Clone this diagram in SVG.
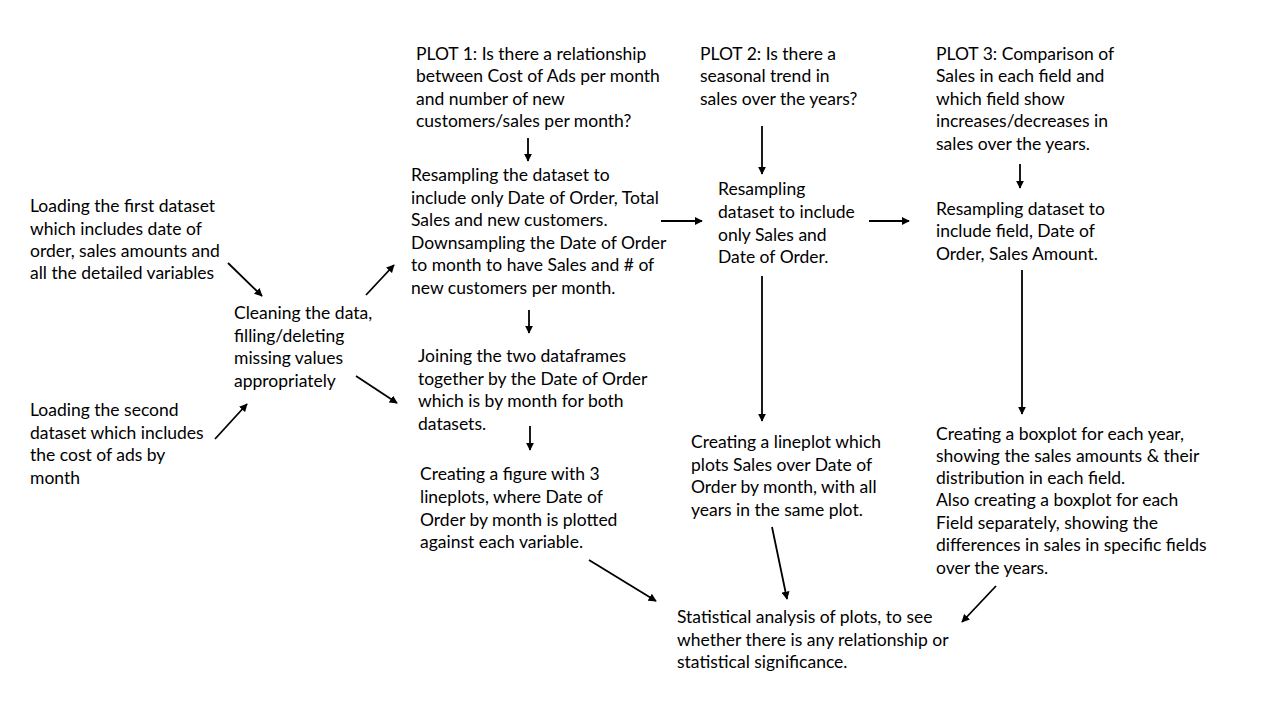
<svg xmlns="http://www.w3.org/2000/svg" width="1280" height="720" viewBox="0 0 1280 720">
<defs>
<style>
text{font-family:Lato,"Liberation Sans",sans-serif;font-size:17.5px;fill:#000}
.c line{stroke:#000;stroke-width:1.8;marker-end:url(#ah)}
</style>
<marker id="ah" viewBox="0 0 10 10" refX="9" refY="5" markerWidth="4.5" markerHeight="4.5" markerUnits="strokeWidth" orient="auto"><path d="M0,0L10,5L0,10z" fill="#000"/></marker>
</defs>
<rect width="1280" height="720" fill="#fff"/>
<g id="load1"><text x="30" y="212">Loading the first dataset</text><text x="30" y="235">which includes date of</text><text x="30" y="257">order, sales amounts and</text><text x="30" y="279">all the detailed  variables</text></g>
<g id="load2"><text x="30" y="416">Loading the second</text><text x="30" y="439">dataset which includes</text><text x="30" y="461">the cost of ads by</text><text x="30" y="484">month</text></g>
<g id="clean"><text x="234" y="319">Cleaning the data,</text><text x="234" y="342">filling/deleting</text><text x="234" y="364">missing values</text><text x="234" y="387">appropriately</text></g>
<g id="plot1"><text x="416" y="60">PLOT 1: Is there a relationship</text><text x="416" y="82">between Cost of Ads per month</text><text x="416" y="105">and number of new</text><text x="416" y="127">customers/sales per month?</text></g>
<g id="resample1"><text x="411" y="181">Resampling the dataset to</text><text x="411" y="204">include only Date of Order, Total</text><text x="411" y="226">Sales and new customers.</text><text x="411" y="249">Downsampling the Date of Order</text><text x="411" y="271">to month to have Sales and # of</text><text x="411" y="294">new customers  per month.</text></g>
<g id="join"><text x="418" y="362">Joining the two dataframes</text><text x="418" y="385">together by the Date of Order</text><text x="418" y="407">which is by month for both</text><text x="418" y="430">datasets.</text></g>
<g id="figure"><text x="420" y="480">Creating a figure with 3</text><text x="420" y="503">lineplots, where Date of</text><text x="420" y="526">Order by month is plotted</text><text x="420" y="548">against each variable.</text></g>
<g id="plot2"><text x="700" y="60">PLOT 2: Is there a</text><text x="700" y="82">seasonal trend in</text><text x="700" y="105">sales over the years?</text></g>
<g id="resample2"><text x="718" y="195">Resampling</text><text x="718" y="218">dataset to include</text><text x="718" y="241">only Sales and</text><text x="718" y="263">Date of Order.</text></g>
<g id="lineplot"><text x="691" y="448">Creating a lineplot which</text><text x="691" y="471">plots Sales over Date of</text><text x="691" y="493">Order by month, with all</text><text x="691" y="516">years in the same plot.</text></g>
<g id="plot3"><text x="936" y="60">PLOT 3: Comparison of</text><text x="936" y="82">Sales in each field  and</text><text x="936" y="105">which field  show</text><text x="936" y="127">increases/decreases in</text><text x="936" y="150">sales over the years.</text></g>
<g id="resample3"><text x="936" y="215">Resampling dataset to</text><text x="936" y="237">include field,  Date of</text><text x="936" y="260">Order, Sales Amount.</text></g>
<g id="boxplot"><text x="936" y="440">Creating a boxplot for each year,</text><text x="936" y="462">showing the sales amounts &amp; their</text><text x="936" y="484">distribution in each field.</text><text x="936" y="506">Also creating a boxplot for each</text><text x="936" y="529">Field separately, showing the</text><text x="936" y="551">differences in sales in specific fields</text><text x="936" y="574">over the years.</text></g>
<g id="stats"><text x="677" y="623">Statistical analysis of plots, to see</text><text x="677" y="646">whether there is any relationship or</text><text x="677" y="668">statistical significance.</text></g>
<g class="c" id="connectors">
<line x1="228" y1="263" x2="262" y2="296"/>
<line x1="215" y1="439" x2="247" y2="404"/>
<line x1="366" y1="295" x2="394" y2="265"/>
<line x1="356" y1="376" x2="397" y2="403"/>
<line x1="528" y1="138" x2="528" y2="161"/>
<line x1="529" y1="310" x2="529" y2="333"/>
<line x1="530" y1="426" x2="530" y2="450"/>
<line x1="661" y1="221" x2="702" y2="221"/>
<line x1="762" y1="126" x2="762" y2="174"/>
<line x1="869" y1="221" x2="909" y2="221"/>
<line x1="1020" y1="164" x2="1020" y2="188"/>
<line x1="762" y1="276" x2="762" y2="421"/>
<line x1="1022" y1="270" x2="1022" y2="414"/>
<line x1="589" y1="560" x2="656" y2="601"/>
<line x1="772" y1="527" x2="787" y2="599"/>
<line x1="996" y1="586" x2="962" y2="622"/>
</g>
</svg>
